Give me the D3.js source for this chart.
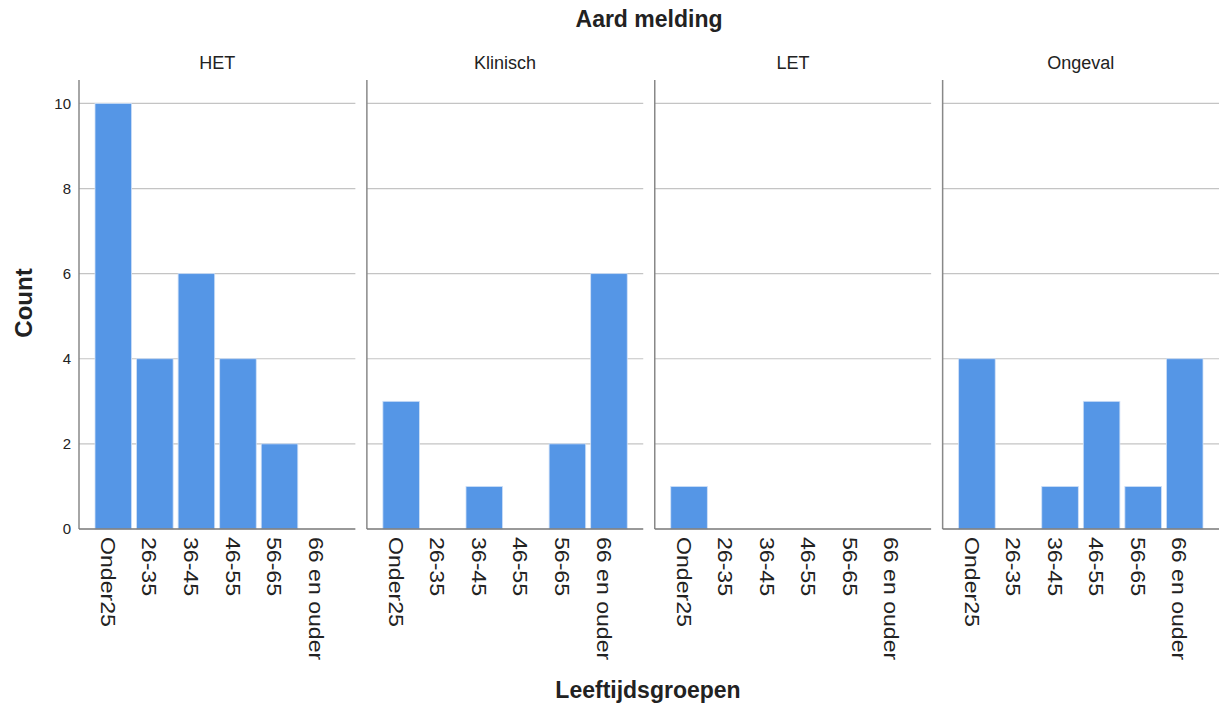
<!DOCTYPE html>
<html>
<head>
<meta charset="utf-8">
<script src="https://cdn.jsdelivr.net/npm/d3@7"></script>
<style>
  body { margin: 0; background: #fff; }
  text { font-family: "Liberation Sans", Arial, sans-serif; fill: #222; }
</style>
</head>
<body>
<svg width="1221" height="711" id="mainsvg"></svg>
<script>
// data
const panels = ['HET', 'Klinisch', 'LET', 'Ongeval'];
const ageGroups = ['Onder25', '26-35', '36-45', '46-55', '56-65', '66 en ouder'];
const countsHET = [10, 4, 6, 4, 2, 0];
const countsKlinisch = [3, 0, 1, 0, 2, 6];
const countsLET = [1, 0, 0, 0, 0, 0];
const countsOngeval = [4, 0, 1, 3, 1, 4];
const yTicks = [0, 2, 4, 6, 8, 10];

const seriesByPanel = {
    HET: countsHET, Klinisch: countsKlinisch, LET: countsLET, Ongeval: countsOngeval
};

const svg = d3.select('svg');
const plotTop = 80, plotBottom = 529;

const panelX = d3.scaleBand().domain(panels).range([79, 1219]).paddingInner(0.04);
const pw = panelX.bandwidth();
const y = d3.scaleLinear().domain([0, 10.55]).range([plotBottom, plotTop]);
const x = d3.scaleBand().domain(ageGroups).range([16, pw - 16]).paddingInner(0.12);

// titles
svg.append('text').attr('x', 649).attr('y', 27).attr('text-anchor', 'middle')
    .style('font-size', '23px').style('font-weight', 'bold').text('Aard melding');
svg.append('text').attr('x', 648).attr('y', 698).attr('text-anchor', 'middle')
    .style('font-size', '23px').style('font-weight', 'bold').text('Leeftijdsgroepen');
svg.append('text').attr('transform', 'translate(32,303) rotate(-90)').attr('text-anchor', 'middle')
    .style('font-size', '24px').style('font-weight', 'bold').text('Count');

// y tick labels
svg.append('g').selectAll('text').data(yTicks).join('text')
    .attr('x', 71).attr('y', d => y(d)).attr('dy', '0.35em')
    .attr('text-anchor', 'end').style('font-size', '15px').text(d => d);

panels.forEach(p => {
    const g = svg.append('g').attr('transform', `translate(${panelX(p)},0)`);

    g.append('text').attr('x', pw / 2).attr('y', 69).attr('text-anchor', 'middle')
        .style('font-size', '18px').text(p);

    // gridlines
    g.selectAll('line.grid').data(yTicks.filter(d => d > 0)).join('line')
        .attr('class', 'grid')
        .attr('x1', 0).attr('x2', pw)
        .attr('y1', d => y(d)).attr('y2', d => y(d))
        .attr('stroke', '#c4c4c4').attr('stroke-width', 1.2);

    // bars
    g.selectAll('rect').data(seriesByPanel[p]).join('rect')
        .attr('x', (d, i) => x(ageGroups[i]))
        .attr('width', x.bandwidth())
        .attr('y', d => y(d))
        .attr('height', d => plotBottom - y(d))
        .attr('fill', '#5596e6')
        .attr('stroke', '#cfe0f7').attr('stroke-width', 0.8);

    // axes lines
    g.append('line').attr('x1', 0).attr('x2', 0).attr('y1', plotTop).attr('y2', plotBottom)
        .attr('stroke', '#888').attr('stroke-width', 1.5);
    g.append('line').attr('x1', 0).attr('x2', pw).attr('y1', plotBottom).attr('y2', plotBottom)
        .attr('stroke', '#777').attr('stroke-width', 1.5);

    // x tick labels, rotated
    g.selectAll('text.tick').data(ageGroups).join('text')
        .attr('class', 'tick')
        .attr('transform', d => `translate(${x(d) + x.bandwidth() / 2 - 5},537) rotate(90) scale(1.1,1)`)
        .attr('dy', '0.35em')
        .style('font-size', '21px').text(d => d);
});
</script>
</body>
</html>
